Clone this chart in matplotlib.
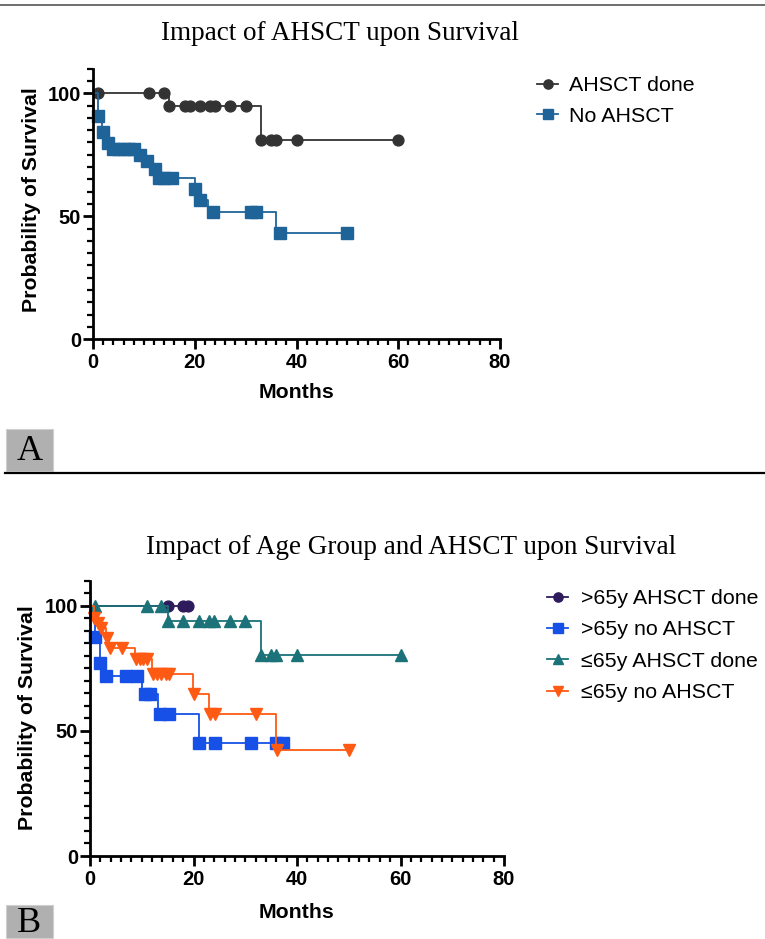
import matplotlib
matplotlib.use("Agg")
import matplotlib.pyplot as plt
from matplotlib.lines import Line2D
from matplotlib.patches import Rectangle
from matplotlib.ticker import MultipleLocator

W, H = 765, 939
SANS = ["Liberation Sans", "DejaVu Sans"]
SERIF = ["Liberation Serif", "DejaVu Serif"]

# ---- panel A data (months, % survival) ----
done_t = [0, 15, 33, 60]
done_s = [100, 94.7, 81.2, 81.2]
done_mt = [1, 11, 14, 15, 18, 19, 21, 23, 24, 27, 30, 33, 35, 36, 40, 60]
done_ms = [100, 100, 100, 94.7, 94.7, 94.7, 94.7, 94.7, 94.7, 94.7, 94.7,
           81.2, 81.2, 81.2, 81.2, 81.2]

noa_t = [0, 1, 1.7, 2.7, 3.35, 8.6, 10.2, 11.6, 12.5, 20.1, 20.8, 22.7, 35.9, 50]
noa_s = [100, 90.7, 84.3, 79.8, 77.5, 74.8, 72.4, 69.4, 65.7, 61.0, 56.5, 51.8, 43.2, 43.2]
noa_mt = [1, 2, 3, 4, 5, 6, 7, 8, 9.3, 10.6, 12.2, 13, 14, 15.5, 20.1, 21.1,
          23.5, 31, 32, 36.7, 50]
noa_ms = [90.7, 84.3, 79.8, 77.5, 77.5, 77.5, 77.5, 77.5, 74.8, 72.4, 69.4,
          65.7, 65.7, 65.7, 61.0, 56.5, 51.8, 51.8, 51.8, 43.2, 43.2]

# ---- panel B data ----
old_done_t = [0, 19]
old_done_s = [100, 100]
old_done_mt = [15, 18, 19]
old_done_ms = [100, 100, 100]

old_no_t = [0, 1, 2, 2.6, 10, 13.2, 21, 37.2]
old_no_s = [100, 87.7, 77.1, 72.0, 64.8, 56.8, 45.3, 45.3]
old_no_mt = [1, 2, 3, 7, 9, 10.6, 11.5, 13.5, 15.2, 21.1, 24.2, 31.1, 36, 37.2]
old_no_ms = [87.7, 77.1, 72.0, 72.0, 72.0, 64.8, 64.8, 56.8, 56.8, 45.3, 45.3,
             45.3, 45.3, 45.3]

young_done_t = [0, 15, 33, 60]
young_done_s = [100, 94.0, 80.4, 80.4]
young_done_mt = [1, 11, 13.8, 15, 18, 21, 23, 24, 27, 30, 33, 35, 36, 40, 60]
young_done_ms = [100, 100, 100, 94.0, 94.0, 94.0, 94.0, 94.0, 94.0, 94.0,
                 80.4, 80.4, 80.4, 80.4, 80.4]

young_no_t = [0, 0.7, 1.3, 2, 3, 3.7, 8.7, 11.9, 19.9, 23, 36, 50]
young_no_s = [100, 95.2, 93.2, 91.2, 87.2, 83.2, 78.7, 72.8, 64.8, 56.7, 42.4, 42.4]
young_no_mt = [0.8, 1.5, 2.2, 3.2, 3.9, 6.1, 8.9, 9.6, 10.3, 11, 12.2, 13,
               13.8, 14.6, 15.3, 20, 23.2, 24.2, 32.1, 36.1, 50]
young_no_ms = [95.2, 93.2, 91.2, 87.2, 83.2, 83.2, 78.7, 78.7, 78.7, 78.7,
               72.8, 72.8, 72.8, 72.8, 72.8, 64.8, 56.7, 56.7, 56.7, 42.4, 42.4]


def fx(px):
    return px / W


def fy(py):
    return 1 - py / H


def style_axes(ax):
    for side in ["top", "right"]:
        ax.spines[side].set_visible(False)
    for side in ["left", "bottom"]:
        ax.spines[side].set_linewidth(2.0)
    ax.set_xlim(0, 80)
    ax.set_ylim(0, 110)
    ax.xaxis.set_major_locator(MultipleLocator(20))
    ax.xaxis.set_minor_locator(MultipleLocator(2))
    ax.set_yticks([0, 50, 100])
    ax.yaxis.set_minor_locator(MultipleLocator(5))
    ax.tick_params(which="major", direction="out", length=7.5, width=2.0,
                   labelsize=14.5, pad=1.0)
    ax.tick_params(which="minor", direction="out", length=4.5, width=1.6)
    ax.tick_params(axis="x", which="major", pad=2.5)
    for lab in ax.get_xticklabels() + ax.get_yticklabels():
        lab.set_fontweight("bold")
        lab.set_family(SANS)
    ax.set_facecolor("none")


def km(ax, t, s, mt, ms, color, marker, size, label):
    ax.step(t, s, where="post", color=color, lw=1.3, clip_on=False)
    ax.plot(mt, ms, ls="none", marker=marker, color=color, markersize=size,
            clip_on=False)
    return Line2D([], [], color=color, lw=1.3, marker=marker, markersize=size * 0.85,
                  label=label)


fig = plt.figure(figsize=(W / 100, H / 100), dpi=100)

# top border line
fig.add_artist(Line2D([0, 1], [fy(5), fy(5)], transform=fig.transFigure,
                      color="#555555", lw=1.2))

# ---------- panel A ----------
axA = fig.add_axes([fx(93), fy(339.3), fx(500) - fx(93), fy(68.7) - fy(339.3)])
hA = [
    km(axA, done_t, done_s, done_mt, done_ms, "#333333", "o", 7.8, "AHSCT done"),
    km(axA, noa_t, noa_s, noa_mt, noa_ms, "#1f6499", "s", 9, "No AHSCT"),
]
style_axes(axA)
fig.text(fx(340), fy(33), "Impact of AHSCT upon Survival", family=SERIF,
         fontsize=19.5, ha="center", va="center")
fig.text(fx(32), fy(200), "Probability of Survival", family=SANS, fontsize=15.3,
         fontweight="bold", rotation=90, ha="center", va="center")
fig.text(fx(296), fy(393), "Months", family=SANS, fontsize=15.3,
         fontweight="bold", ha="center", va="center")
fig.legend(handles=hA, loc="upper left", bbox_to_anchor=(fx(537), fy(76)),
           frameon=False, prop={"family": SANS, "size": 15.4}, handlelength=1.0,
           handletextpad=0.5, labelspacing=0.56, borderpad=0, borderaxespad=0)

fig.add_artist(Rectangle((fx(5.5), fy(471)), fx(53) - fx(5.5), fy(429) - fy(471),
                         transform=fig.transFigure, facecolor="#b0b0b0",
                         edgecolor="#cfcfcf", lw=0.8))
fig.text(fx(29.5), fy(452), "A", family=SERIF, fontsize=26, ha="center", va="center")
fig.add_artist(Line2D([fx(5), 1], [fy(472.5), fy(472.5)], transform=fig.transFigure,
                      color="black", lw=1.6))

# ---------- panel B ----------
axB = fig.add_axes([fx(90), fy(856), fx(504) - fx(90), fy(580.7) - fy(856)])
hB = [
    km(axB, old_done_t, old_done_s, old_done_mt, old_done_ms, "#2d1b5c", "o", 7.8,
       ">65y AHSCT done"),
    km(axB, old_no_t, old_no_s, old_no_mt, old_no_ms, "#1650e6", "s", 8.5, ">65y no AHSCT"),
    km(axB, young_done_t, young_done_s, young_done_mt, young_done_ms, "#1b7279", "^", 8.5,
       "\u226465y AHSCT done"),
    km(axB, young_no_t, young_no_s, young_no_mt, young_no_ms, "#ff5a14", "v", 8.5,
       "\u226465y no AHSCT"),
]
style_axes(axB)
fig.text(fx(411), fy(547), "Impact of Age Group and AHSCT upon Survival", family=SERIF,
         fontsize=19.5, ha="center", va="center")
fig.text(fx(28), fy(718), "Probability of Survival", family=SANS, fontsize=15.3,
         fontweight="bold", rotation=90, ha="center", va="center")
fig.text(fx(297), fy(912), "Months", family=SANS, fontsize=15.3,
         fontweight="bold", ha="center", va="center")
fig.legend(handles=hB, loc="upper left", bbox_to_anchor=(fx(547), fy(589)),
           frameon=False, prop={"family": SANS, "size": 15.4}, handlelength=1.0,
           handletextpad=0.6, labelspacing=0.58, borderpad=0, borderaxespad=0)

fig.add_artist(Rectangle((fx(5.5), fy(938)), fx(53) - fx(5.5), fy(905) - fy(938),
                         transform=fig.transFigure, facecolor="#b0b0b0",
                         edgecolor="#cfcfcf", lw=0.8))
fig.text(fx(29.5), fy(923), "B", family=SERIF, fontsize=26, ha="center", va="center")

fig.savefig("out.png", dpi=100)
